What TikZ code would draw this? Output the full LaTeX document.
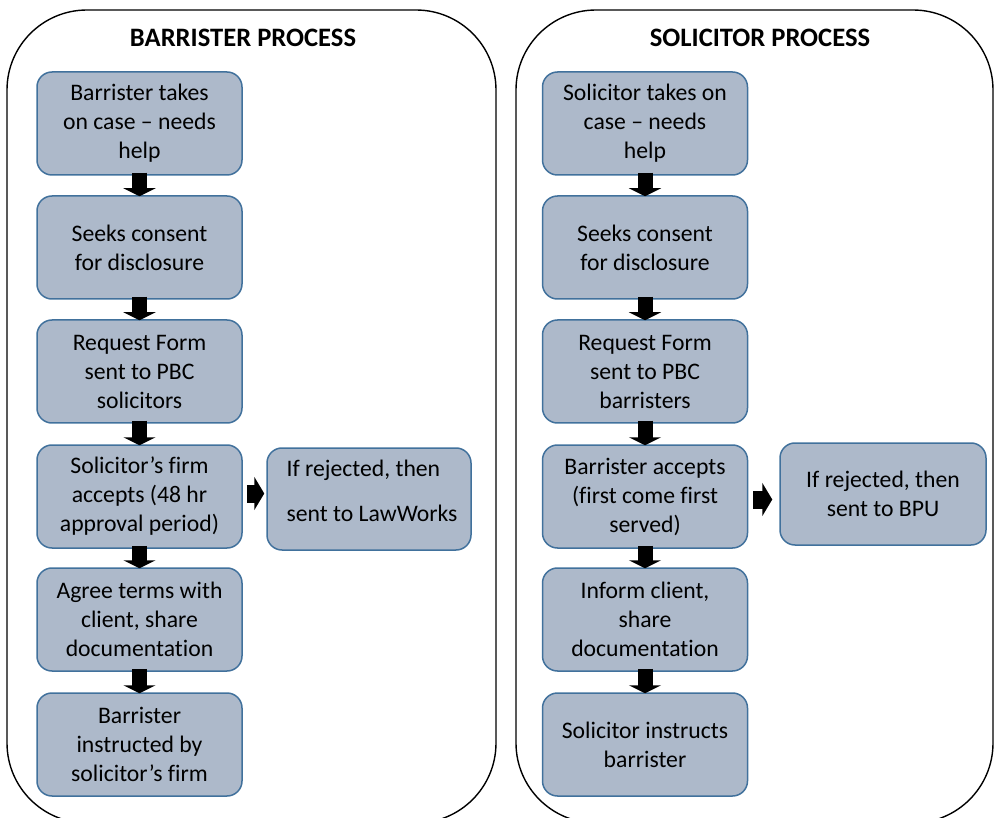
\documentclass[tikz,border=0pt]{standalone}
\usepackage{fontspec}
\setmainfont{Carlito}[Ligatures=NoCommon]
\usetikzlibrary{arrows.meta,calc}
\definecolor{boxfill}{HTML}{ADB9CA}
\definecolor{boxline}{HTML}{41719C}
\tikzset{
  stepbox/.style={draw=boxline, fill=boxfill, line width=1.5pt, rounded corners=15pt,
    minimum width=205pt, minimum height=103pt, inner sep=0pt, align=center,
    font=\fontsize{23.7}{29}\selectfont},
  sidebox/.style={stepbox, minimum width=204pt, minimum height=102pt},
  panel/.style={draw=black, line width=1.4pt, rounded corners=80pt},
  title/.style={anchor=base, font=\fontsize{26.6}{30}\selectfont\bfseries, inner sep=0pt},
  varrow/.style={line width=15pt, -{Triangle[width=32pt,length=8pt]}, black},
  harrow/.style={line width=18pt, -{Triangle[width=33pt,length=10pt]}, black}
}
\begin{document}
\begin{tikzpicture}[x=1pt,y=-1pt]
\useasboundingbox (0,0) rectangle (994,818);
\begin{scope}
\clip (0,0) rectangle (994,818);
\draw[panel] (7,10) rectangle (496,823);
\draw[panel] (516,10) rectangle (993,823);
\end{scope}
\node[title] (tl) at (243,47) {BARRISTER PROCESS};
\node[title] (tr) at (760,47) {SOLICITOR PROCESS};
% left column
\node[stepbox] (L1) at (139.5,123.5) {Barrister takes\\on case – needs\\help};
\node[stepbox] (L2) at (139.5,247.5) {Seeks consent\\for disclosure};
\node[stepbox] (L3) at (139.5,371.5) {Request Form\\sent to PBC\\solicitors};
\node[stepbox] (L4) at (139.5,496.5) {Solicitor’s firm\\accepts (48 hr\\approval period)};
\node[stepbox] (L5) at (139.5,619.5) {Agree terms with\\client, share\\documentation};
\node[stepbox] (L6) at (139.5,744.5) {Barrister\\instructed by\\solicitor’s firm};
\node[sidebox, align=left] (LS) at (369,499) {\hspace*{6pt}If rejected, then\\[16pt]\hspace*{6pt}sent to LawWorks\\[-12pt]\mbox{}};
% right column
\node[stepbox] (R1) at (645,123.5) {Solicitor takes on\\case – needs\\help};
\node[stepbox] (R2) at (645,247.5) {Seeks consent\\for disclosure};
\node[stepbox] (R3) at (645,371.5) {Request Form\\sent to PBC\\barristers};
\node[stepbox] (R4) at (645,496.5) {Barrister accepts\\(first come first\\served)};
\node[stepbox] (R5) at (645,619.5) {Inform client,\\share\\documentation};
\node[stepbox] (R6) at (645,744.5) {Solicitor instructs\\barrister};
\node[sidebox, minimum width=206pt] (RS) at (883,494) {If rejected, then\\sent to BPU};
% arrows
\foreach \a/\b in {L1/L2,L2/L3,L3/L4,L4/L5,L5/L6,R1/R2,R2/R3,R3/R4,R4/R5,R5/R6}{
  \draw[varrow] ([yshift=3pt]\a.south) -- ([yshift=-1pt]\b.north);
}
\draw[harrow] ([xshift=4pt,yshift=3pt]L4.east) -- ([xshift=-2pt,yshift=3pt]L4.east -| LS.west);
\draw[harrow] ([xshift=5pt,yshift=-3pt]R4.east) -- ([xshift=-7pt,yshift=-3pt]R4.east -| RS.west);
\end{tikzpicture}
\end{document}
